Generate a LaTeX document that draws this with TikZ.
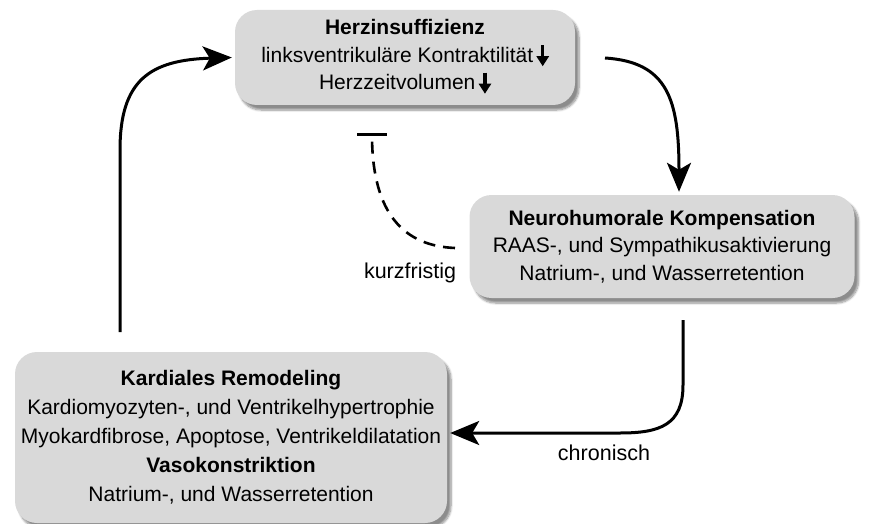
\documentclass[tikz,border=0pt]{standalone}
\usepackage{fontspec}
\setmainfont{Liberation Sans}
\usetikzlibrary{arrows.meta,shadows.blur}
\begin{document}
\begin{tikzpicture}[x=1pt,y=-1pt,
  box/.style={draw=none,fill=boxgray,rounded corners=22pt,align=center,
    font=\fontsize{21pt}{27.5pt}\selectfont,
    blur shadow={shadow xshift=4pt,shadow yshift=-5pt,shadow blur steps=8,shadow opacity=45}},
  arr/.style={line width=3pt,-{Stealth[length=29pt,width=24pt,inset=7pt]}},
  lbl/.style={font=\fontsize{21.5pt}{24pt}\selectfont}]
\definecolor{boxgray}{RGB}{217,217,217}
\useasboundingbox (0,0) rectangle (870,524);
\newcommand{\dn}{\,\tikz[baseline=0pt]{\draw[line width=3.5pt,-{Triangle[length=10pt,width=12pt]}] (0pt,17pt) -- (0pt,-4pt);}}
\node[box,minimum width=340pt,minimum height=95pt] (h) at (405,57.5)
  {\textbf{Herzinsuffizienz}\\linksventrikuläre Kontraktilität\dn\\Herzzeitvolumen\dn};
\node[box,minimum width=385pt,minimum height=103pt] (n) at (662,246.5)
  {\textbf{Neurohumorale Kompensation}\\RAAS-, und Sympathikusaktivierung\\Natrium-, und Wasserretention};
\node[box,minimum width=432pt,minimum height=171pt,font=\fontsize{21pt}{29pt}\selectfont] (k) at (231,437.5)
  {\textbf{Kardiales Remodeling}\\Kardiomyozyten-, und Ventrikelhypertrophie\\Myokardfibrose, Apoptose, Ventrikeldilatation\\\textbf{Vasokonstriktion}\\Natrium-, und Wasserretention};
\coordinate (ks) at (120,332);
\coordinate (hs) at (605,58);
\coordinate (ns) at (683,320);
\coordinate (ds) at (455,248);
\coordinate (de) at (372,133);
\draw[arr] (ks) -- (120,150) .. controls (120,80) and (150,60) .. ([xshift=-3pt]h.west);
\draw[arr] (hs) .. controls (668,62) and (679,100) .. ([yshift=3pt]n.north -| 679,0);
\draw[arr] (ns) -- (683,385) .. controls (683,425) and (660,433) .. (620,433) -- ([xshift=3pt]k.east |- 0,433);
\draw[line width=2.6pt,dash pattern=on 12pt off 8pt,-{Bar[width=30pt,line width=2.6pt]}] (ds) .. controls (405,246) and (372,215) .. (de);
\node[lbl] (kf) at (410,273) {kurzfristig};
\node[lbl] (ch) at (604,453) {chronisch};
\end{tikzpicture}
\end{document}
